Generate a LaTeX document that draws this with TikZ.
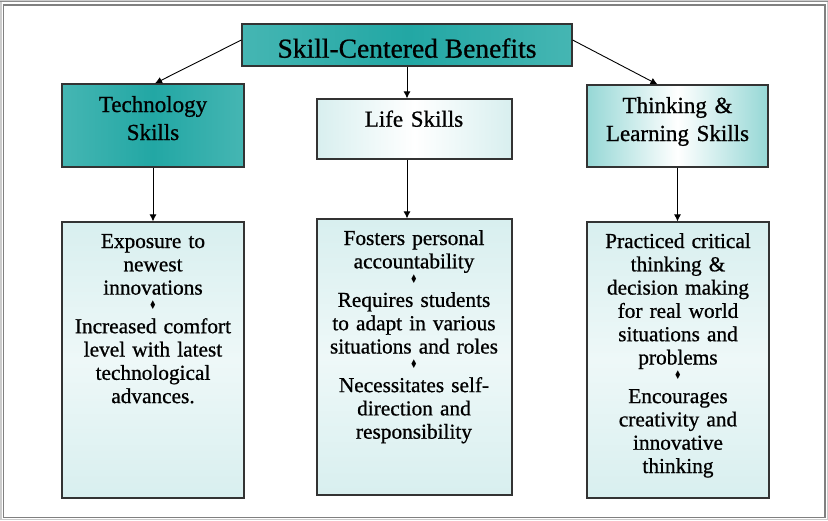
\documentclass[tikz,border=0pt]{standalone}
\usepackage{fontspec}
\usepackage{graphicx}
\setmainfont{Liberation Serif}[FakeBold=0.8]
\newfontfamily\symf{DejaVu Sans}
\usetikzlibrary{arrows.meta}
\definecolor{tealdark}{HTML}{22A7A4}
\definecolor{tealmid}{HTML}{4FBAB7}
\definecolor{teallight}{HTML}{8AD3D1}
\definecolor{tealpale}{HTML}{D8EFEF}
\definecolor{tealpaler}{HTML}{EEF8F8}
\definecolor{boxline}{HTML}{333333}
\pgfdeclarehorizontalshading{darkshade}{100bp}{color(0bp)=(teallight); color(8bp)=(teallight); color(18bp)=(tealmid); color(50bp)=(tealdark); color(82bp)=(tealmid); color(92bp)=(teallight); color(100bp)=(teallight)}
\newcommand\dmd{{\symf\fontsize{12}{12}\selectfont\scalebox{0.7}[1]{♦}}}
\tikzset{
  box/.style={draw=boxline, line width=1.2pt, rectangle, inner sep=0pt},
  darkbox/.style={box, shading=darkshade},
  lightbox/.style={box, left color=teallight!90, right color=teallight!90, middle color=white},
  whitebox/.style={box, left color=tealpale, right color=tealpale, middle color=white},
  listbox/.style={box, top color=tealpale, bottom color=tealpale, middle color=tealpaler},
  titletext/.style={anchor=base, inner sep=0pt, font=\fontsize{27.5}{30}\selectfont},
  headtext/.style={anchor=base, inner sep=0pt, text width=180pt, align=center, font=\fontsize{23}{28}\selectfont},
  listtext/.style={anchor=base, inner sep=0pt, text width=180pt, align=center, font=\fontsize{21.3}{23.3}\selectfont},
  conn/.style={draw=black, line width=0.9pt, -{Latex[length=7pt,width=7pt]}}
}
\begin{document}
\begin{tikzpicture}[x=1pt,y=-1pt]
\useasboundingbox (0,0) rectangle (828,520);
% window frame
\draw[draw=black!20, line width=1.5pt] (0.75,0.75) rectangle (827.25,519.25);
\draw[draw=black!50, line width=1.4pt] (3.5,5) rectangle (825,517.5);
\draw[draw=black!45, line width=1pt] (0,1.5) -- (828,1.5);

% boxes
\node[darkbox, minimum width=330pt, minimum height=42pt] (top) at (407,45) {};
\node[darkbox, minimum width=182pt, minimum height=83pt] (tech) at (153,125.5) {};
\node[whitebox, minimum width=195pt, minimum height=60pt] (life) at (414.5,129) {};
\node[lightbox, minimum width=181pt, minimum height=82pt] (think) at (677.5,126) {};
\node[listbox, minimum width=182pt, minimum height=276pt] (techB) at (153,360) {};
\node[listbox, minimum width=195pt, minimum height=276pt] (lifeB) at (414.5,357) {};
\node[listbox, minimum width=182pt, minimum height=276pt] (thinkB) at (678,360) {};

% texts
\node[titletext] (topT) at (407,57.7) {Skill-Centered Benefits};
\node[headtext] (techT) at (153,112) {Technology\\Skills};
\node[headtext] (lifeT) at (414,126.7) {Life Skills};
\node[headtext] (thinkT) at (677.5,113) {Thinking \&\\Learning Skills};
\node[listtext] (techBT) at (153,248) {Exposure to\\newest\\innovations\\[-8pt]\dmd\\Increased comfort\\level with latest\\technological\\advances.};
\node[listtext] (lifeBT) at (414,245) {Fosters personal\\accountability\\[-8pt]\dmd\\Requires students\\to adapt in various\\situations and roles\\[-8pt]\dmd\\Necessitates self-\\direction and\\responsibility};
\node[listtext] (thinkBT) at (678,248) {Practiced critical\\thinking \&\\decision making\\for real world\\situations and\\problems\\[-8pt]\dmd\\Encourages\\creativity and\\innovative\\thinking};

% connectors
\draw[conn] ([yshift=5pt]top.west) -- ([xshift=2pt]tech.north);
\draw[conn] ([yshift=5pt]top.east) -- ([xshift=-20pt]think.north);
\draw[conn] (top.south) -- (top.south |- life.north);
\draw[conn] (tech.south) -- (techB.north);
\draw[conn] (life.south -| top.south) -- (lifeB.north -| top.south);
\draw[conn] (think.south) -- (think.south |- thinkB.north);
\end{tikzpicture}
\end{document}
